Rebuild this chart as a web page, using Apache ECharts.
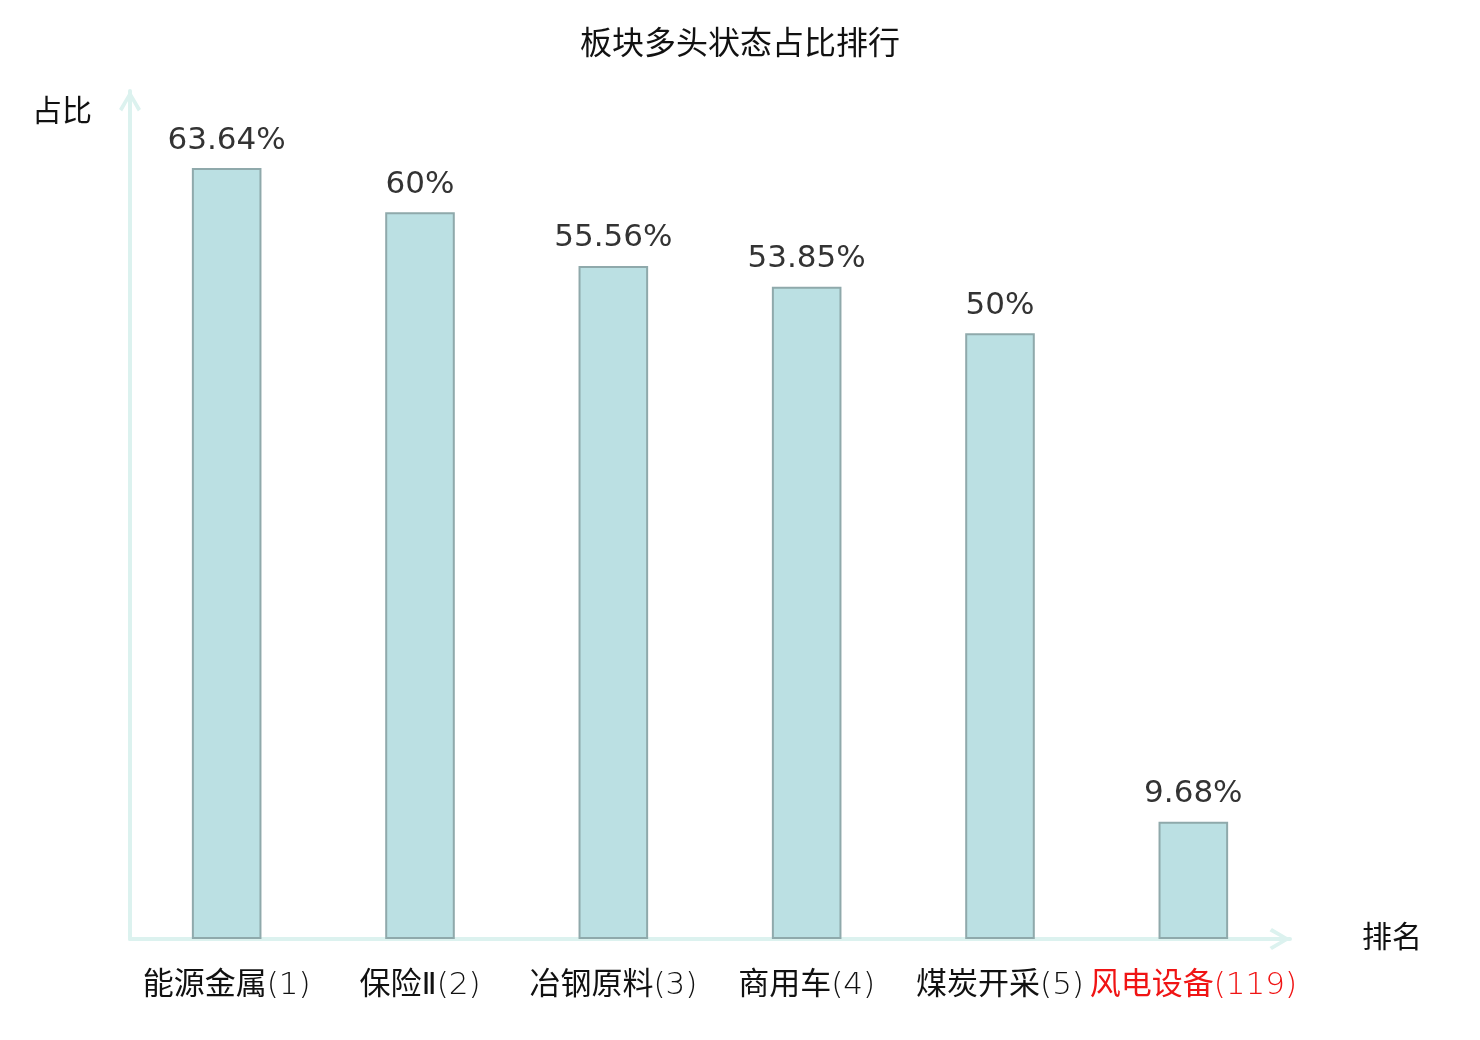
<!DOCTYPE html>
<html>
<head>
<meta charset="utf-8">
<script src="https://cdn.jsdelivr.net/npm/echarts@6/dist/echarts.min.js"></script>
<style>
  html, body { margin: 0; padding: 0; background: #fff; }
  #main { width: 1480px; height: 1040px; }
</style>
</head>
<body>
<div id="main"></div>
<script>
// data
var categories = ['能源金属', '保险Ⅱ', '冶钢原料', '商用车', '煤炭开采', '风电设备'];
var ranks = [1, 2, 3, 4, 5, 119];
var ratios = [63.64, 60, 55.56, 53.85, 50, 9.68];
var highlightIndex = 5;

var chart = echarts.init(document.getElementById('main'));

var baseFont = '"DejaVu Sans", "Noto Sans CJK SC", sans-serif';
// open chevron used as axis arrow (tip at top)
var chevron = 'path://M10,0 L20,17 L17.2,19.2 L10,6.4 L2.8,19.2 L0,17 Z';

var labelData = categories.map(function (name, i) {
    return name + '(' + ranks[i] + ')';
});

var option = {
    textStyle: { fontFamily: baseFont },
    title: {
        text: '板块多头状态占比排行',
        left: 'center',
        top: 25,
        textStyle: {
            fontFamily: baseFont,
            fontSize: 32,
            fontWeight: 'normal',
            color: '#111'
        }
    },
    grid: {
        left: 130,
        right: 190,
        top: 91,
        bottom: 101
    },
    xAxis: {
        type: 'category',
        data: labelData,
        name: '排名',
        nameGap: 72,
        nameTextStyle: {
            fontFamily: baseFont,
            fontSize: 30,
            color: '#111',
            verticalAlign: 'middle',
            padding: [26, 0, 0, 0]
        },
        axisLine: {
            lineStyle: { color: '#dcf2ef', width: 4 },
            symbol: ['none', chevron],
            symbolSize: [22, 21],
            symbolOffset: [0, -10]
        },
        axisTick: { show: false },
        axisLabel: {
            margin: 31,
            interval: 0,
            formatter: function (value, idx) {
                var m = value.match(/^(.*)(\(\d+\))$/);
                if (idx === highlightIndex) {
                    return '{hn|' + m[1] + '}{hr|' + m[2] + '}';
                }
                return '{n|' + m[1] + '}{r|' + m[2] + '}';
            },
            rich: {
                n: { fontFamily: baseFont, fontSize: 31, color: '#111' },
                r: { fontFamily: baseFont, fontSize: 31, color: '#111', fontWeight: 200 },
                hn: { fontFamily: baseFont, fontSize: 31, color: '#f01414' },
                hr: { fontFamily: baseFont, fontSize: 31, color: '#f01414', fontWeight: 200 }
            }
        }
    },
    yAxis: {
        type: 'value',
        min: 0,
        max: 70,
        name: '占比',
        nameLocation: 'end',
        nameGap: -22,
        nameTextStyle: {
            fontFamily: baseFont,
            fontSize: 30,
            color: '#111',
            align: 'right',
            verticalAlign: 'middle',
            padding: [0, 38, 0, 0]
        },
        axisLine: {
            show: true,
            lineStyle: { color: '#dcf2ef', width: 4 },
            symbol: ['none', chevron],
            symbolSize: [22, 21],
            symbolOffset: [0, -10]
        },
        axisTick: { show: false },
        axisLabel: { show: false },
        splitLine: { show: false }
    },
    series: [{
        type: 'bar',
        data: ratios,
        barWidth: '36%',
        itemStyle: {
            color: '#bbe0e3',
            borderColor: '#8fa9ab',
            borderWidth: 2
        },
        label: {
            show: true,
            position: 'top',
            distance: 12,
            fontFamily: baseFont,
            fontSize: 31,
            color: '#333',
            formatter: function (p) { return p.value + '%'; }
        }
    }]
};

chart.setOption(option);
</script>
</body>
</html>
